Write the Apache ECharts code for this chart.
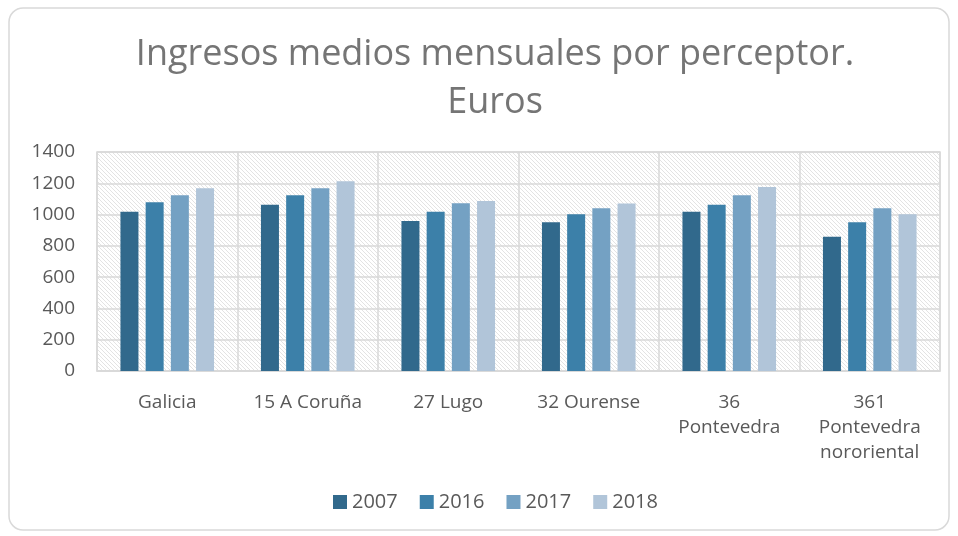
<!DOCTYPE html>
<html>
<head>
<meta charset="utf-8">
<script src="https://cdn.jsdelivr.net/npm/echarts@6/dist/echarts.min.js"></script>
<style>
  html, body { margin: 0; padding: 0; background: #fff; }
  #chart { width: 958px; height: 536px; }
</style>
</head>
<body>
<div id="chart"></div>
<script>
const categories = ['Galicia', '15 A Coruña', '27 Lugo', '32 Ourense', '36\nPontevedra', '361\nPontevedra\nnororiental'];
const years = ['2007', '2016', '2017', '2018'];
const v2007 = [1018, 1063, 959, 951, 1018, 859];
const v2016 = [1078, 1123, 1018, 1002, 1063, 951];
const v2017 = [1123, 1168, 1072, 1040, 1123, 1040];
const v2018 = [1168, 1213, 1087, 1070, 1176, 1002];
const yTicks = [0, 200, 400, 600, 800, 1000, 1200, 1400];

const colors = ['#31698c', '#3c80a9', '#74a1c3', '#b1c5d9'];
const fontFam = '"Open Sans", sans-serif';

// diagonal hatch for plot background
function hatch() {
    const c = document.createElement('canvas');
    c.width = 8; c.height = 8;
    const ctx = c.getContext('2d');
    ctx.fillStyle = '#ffffff';
    ctx.fillRect(0, 0, 8, 8);
    ctx.strokeStyle = '#e3e3e3';
    ctx.lineWidth = 1;
    for (let x = -8; x <= 8; x += 4) {
        ctx.beginPath();
        ctx.moveTo(x, 0);
        ctx.lineTo(x + 8, 8);
        ctx.stroke();
    }
    return c;
}

const chart = echarts.init(document.getElementById('chart'));
const seriesData = [v2007, v2016, v2017, v2018];

const option = {
    animation: false,
    color: colors,
    title: {
        text: 'Ingresos medios mensuales por perceptor.\nEuros',
        left: 490,
        textAlign: 'center',
        top: 26,
        textStyle: {
            fontFamily: fontFam,
            fontWeight: 'normal',
            fontSize: 36,
            color: '#757575',
            lineHeight: 48
        }
    },
    legend: {
        data: years,
        bottom: 19,
        left: 328,
        itemWidth: 14,
        itemHeight: 14,
        itemGap: 22,
        icon: 'rect',
        textStyle: { fontFamily: fontFam, fontSize: 20, color: '#595959' }
    },
    grid: {
        left: 97,
        right: 18,
        top: 152,
        bottom: 165,
        show: true,
        backgroundColor: { image: hatch(), repeat: 'repeat' },
        borderColor: '#d9d9d9',
        borderWidth: 1.5
    },
    xAxis: {
        type: 'category',
        data: categories,
        axisLine: { show: true, lineStyle: { color: '#d9d9d9', width: 1.5 } },
        axisTick: { show: false },
        splitLine: { show: true, lineStyle: { color: '#d9d9d9', width: 1.5 } },
        axisLabel: {
            interval: 0,
            margin: 19,
            fontFamily: fontFam,
            fontSize: 19,
            color: '#595959',
            lineHeight: 25
        }
    },
    yAxis: {
        type: 'value',
        min: yTicks[0],
        max: yTicks[yTicks.length - 1],
        interval: 200,
        axisLine: { show: false },
        axisTick: { show: false },
        splitLine: { lineStyle: { color: '#d9d9d9', width: 1.5 } },
        axisLabel: {
            margin: 22,
            fontFamily: fontFam,
            fontSize: 19,
            color: '#595959',
            formatter: v => String(v)
        }
    },
    graphic: [{
        type: 'rect',
        shape: { x: 9, y: 8, width: 940, height: 522, r: 14 },
        style: { fill: null, stroke: '#d9d9d9', lineWidth: 1.5 },
        silent: true
    }],
    series: years.map((y, i) => ({
        name: y,
        type: 'bar',
        data: seriesData[i],
        barWidth: 18,
        barGap: '40%'
    }))
};

chart.setOption(option);
</script>
</body>
</html>
